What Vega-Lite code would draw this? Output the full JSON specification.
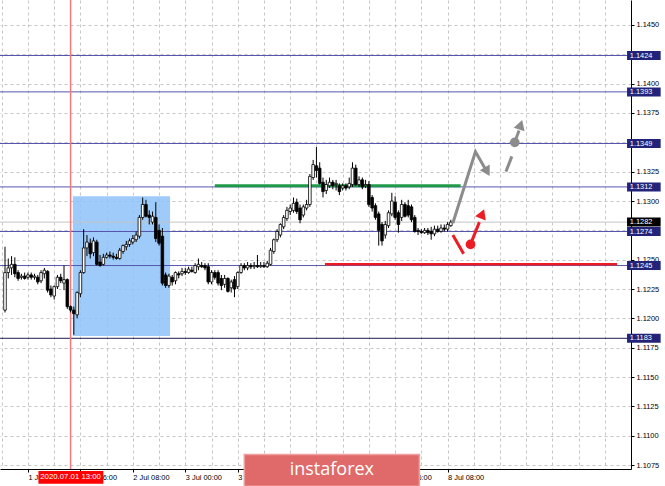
{
"$schema":"https://vega.github.io/schema/vega-lite/v6.json",
"width":631,"height":469,
"autosize":{"type":"none"},
"padding":{"left":0,"top":0,"right":34,"bottom":17},
"background":"white",
"config":{"view":{"stroke":null},"font":"Liberation Sans"},
"resolve":{"scale":{"x":"shared","y":"shared"},"axis":{"x":"independent","y":"independent"}},
"datasets":{
"candles":[
{"t":-7,"o":1.1207,"h":1.1261,"l":1.1205,"c":1.1239},{"t":-6,"o":1.1239,"h":1.1251,"l":1.1234,"c":1.1243},{"t":-5,"o":1.1243,"h":1.1253,"l":1.1237,"c":1.1246},{"t":-4,"o":1.1246,"h":1.1252,"l":1.1235,"c":1.1238},{"t":-3,"o":1.1239,"h":1.1241,"l":1.1232,"c":1.1234},{"t":-2,"o":1.1235,"h":1.1238,"l":1.1233,"c":1.1236},{"t":-1,"o":1.1236,"h":1.1239,"l":1.1233,"c":1.1234},
{"t":0,"o":1.1235,"h":1.1239,"l":1.1233,"c":1.1237},{"t":1,"o":1.1237,"h":1.1239,"l":1.1233,"c":1.1235},{"t":2,"o":1.1235,"h":1.1238,"l":1.1233,"c":1.1236},{"t":3,"o":1.1235,"h":1.1237,"l":1.1229,"c":1.1231},{"t":4,"o":1.1232,"h":1.1241,"l":1.1230,"c":1.1239},{"t":5,"o":1.1238,"h":1.1243,"l":1.1234,"c":1.1241},{"t":6,"o":1.1240,"h":1.1241,"l":1.1222,"c":1.1224},{"t":7,"o":1.1225,"h":1.1228,"l":1.1218,"c":1.1220},{"t":8,"o":1.1219,"h":1.1228,"l":1.1216,"c":1.1227},{"t":9,"o":1.1227,"h":1.1237,"l":1.1225,"c":1.1235},
{"t":10,"o":1.1235,"h":1.1238,"l":1.1230,"c":1.1232},{"t":11,"o":1.1230,"h":1.1245,"l":1.1224,"c":1.1233},{"t":12,"o":1.1233,"h":1.1234,"l":1.1208,"c":1.1210},{"t":13,"o":1.1210,"h":1.1211,"l":1.1205,"c":1.1207},{"t":14,"o":1.1207,"h":1.1210,"l":1.1186,"c":1.1204},{"t":15,"o":1.1203,"h":1.1223,"l":1.1200,"c":1.1222},{"t":16,"o":1.1221,"h":1.1241,"l":1.1218,"c":1.1239},{"t":17,"o":1.1239,"h":1.1276,"l":1.1238,"c":1.1260},{"t":18,"o":1.1260,"h":1.1271,"l":1.1253,"c":1.1265},{"t":19,"o":1.1264,"h":1.1268,"l":1.1251,"c":1.1255},
{"t":20,"o":1.1256,"h":1.1269,"l":1.1253,"c":1.1266},{"t":21,"o":1.1265,"h":1.1267,"l":1.1245,"c":1.1246},{"t":22,"o":1.1248,"h":1.1254,"l":1.1244,"c":1.1245},{"t":23,"o":1.1246,"h":1.1255,"l":1.1245,"c":1.1252},{"t":24,"o":1.1252,"h":1.1256,"l":1.1251,"c":1.1254},{"t":25,"o":1.1254,"h":1.1257,"l":1.1251,"c":1.1253},{"t":26,"o":1.1253,"h":1.1256,"l":1.1250,"c":1.1252},{"t":27,"o":1.1252,"h":1.1255,"l":1.1250,"c":1.1251},{"t":28,"o":1.1251,"h":1.1260,"l":1.1250,"c":1.1258},{"t":29,"o":1.1257,"h":1.1263,"l":1.1255,"c":1.1262},
{"t":30,"o":1.1261,"h":1.1266,"l":1.1258,"c":1.1263},{"t":31,"o":1.1263,"h":1.1268,"l":1.1261,"c":1.1266},{"t":32,"o":1.1265,"h":1.1271,"l":1.1263,"c":1.1268},{"t":33,"o":1.1267,"h":1.1274,"l":1.1265,"c":1.1271},{"t":34,"o":1.1270,"h":1.1288,"l":1.1268,"c":1.1286},{"t":35,"o":1.1286,"h":1.1303,"l":1.1284,"c":1.1297},{"t":36,"o":1.1297,"h":1.1301,"l":1.1286,"c":1.1287},{"t":37,"o":1.1288,"h":1.1292,"l":1.1280,"c":1.1286},{"t":38,"o":1.1282,"h":1.1291,"l":1.1280,"c":1.1287},{"t":39,"o":1.1286,"h":1.1299,"l":1.1265,"c":1.1268},
{"t":40,"o":1.1275,"h":1.1280,"l":1.1262,"c":1.1264},{"t":41,"o":1.1270,"h":1.1277,"l":1.1228,"c":1.1230},{"t":42,"o":1.1237,"h":1.1239,"l":1.1226,"c":1.1228},{"t":43,"o":1.1228,"h":1.1238,"l":1.1226,"c":1.1236},{"t":44,"o":1.1235,"h":1.1237,"l":1.1228,"c":1.1231},{"t":45,"o":1.1232,"h":1.1240,"l":1.1229,"c":1.1239},{"t":46,"o":1.1238,"h":1.1240,"l":1.1234,"c":1.1237},{"t":47,"o":1.1238,"h":1.1243,"l":1.1236,"c":1.1240},{"t":48,"o":1.1240,"h":1.1243,"l":1.1237,"c":1.1239},{"t":49,"o":1.1239,"h":1.1244,"l":1.1238,"c":1.1242},
{"t":50,"o":1.1241,"h":1.1244,"l":1.1239,"c":1.1240},{"t":51,"o":1.1239,"h":1.1247,"l":1.1238,"c":1.1245},{"t":52,"o":1.1244,"h":1.1251,"l":1.1241,"c":1.1246},{"t":53,"o":1.1245,"h":1.1248,"l":1.1243,"c":1.1244},{"t":54,"o":1.1245,"h":1.1247,"l":1.1241,"c":1.1243},{"t":55,"o":1.1244,"h":1.1247,"l":1.1229,"c":1.1231},{"t":56,"o":1.1231,"h":1.1241,"l":1.1229,"c":1.1239},{"t":57,"o":1.1239,"h":1.1241,"l":1.1233,"c":1.1235},{"t":58,"o":1.1239,"h":1.1241,"l":1.1228,"c":1.1230},{"t":59,"o":1.1234,"h":1.1237,"l":1.1224,"c":1.1228},
{"t":60,"o":1.1229,"h":1.1237,"l":1.1226,"c":1.1234},{"t":61,"o":1.1234,"h":1.1235,"l":1.1222,"c":1.1223},{"t":62,"o":1.1226,"h":1.1233,"l":1.1222,"c":1.1231},{"t":63,"o":1.1233,"h":1.1236,"l":1.1218,"c":1.1225},{"t":64,"o":1.1227,"h":1.1240,"l":1.1225,"c":1.1239},{"t":65,"o":1.1239,"h":1.1247,"l":1.1238,"c":1.1245},{"t":66,"o":1.1245,"h":1.1247,"l":1.1241,"c":1.1243},{"t":67,"o":1.1243,"h":1.1248,"l":1.1241,"c":1.1245},{"t":68,"o":1.1245,"h":1.1247,"l":1.1242,"c":1.1244},{"t":69,"o":1.1244,"h":1.1248,"l":1.1242,"c":1.1245},
{"t":70,"o":1.1245,"h":1.1254,"l":1.1243,"c":1.1244},{"t":71,"o":1.1244,"h":1.1248,"l":1.1243,"c":1.1245},{"t":72,"o":1.1245,"h":1.1248,"l":1.1243,"c":1.1244},{"t":73,"o":1.1244,"h":1.1249,"l":1.1243,"c":1.1247},{"t":74,"o":1.1246,"h":1.1260,"l":1.1245,"c":1.1258},{"t":75,"o":1.1257,"h":1.1268,"l":1.1255,"c":1.1267},{"t":76,"o":1.1267,"h":1.1276,"l":1.1265,"c":1.1274},{"t":77,"o":1.1271,"h":1.1281,"l":1.1269,"c":1.1280},{"t":78,"o":1.1278,"h":1.1288,"l":1.1276,"c":1.1286},{"t":79,"o":1.1285,"h":1.1295,"l":1.1283,"c":1.1292},
{"t":80,"o":1.1291,"h":1.1297,"l":1.1288,"c":1.1294},{"t":81,"o":1.1292,"h":1.1303,"l":1.1290,"c":1.1298},{"t":82,"o":1.1299,"h":1.1302,"l":1.1289,"c":1.1291},{"t":83,"o":1.1294,"h":1.1297,"l":1.1281,"c":1.1284},{"t":84,"o":1.1288,"h":1.1297,"l":1.1286,"c":1.1295},{"t":85,"o":1.1294,"h":1.1301,"l":1.1292,"c":1.1297},{"t":86,"o":1.1297,"h":1.1323,"l":1.1295,"c":1.1321},{"t":87,"o":1.1320,"h":1.1335,"l":1.1318,"c":1.1331},{"t":88,"o":1.1330,"h":1.1346,"l":1.1320,"c":1.1326},{"t":89,"o":1.1328,"h":1.1333,"l":1.1314,"c":1.1315},
{"t":90,"o":1.1316,"h":1.1320,"l":1.1303,"c":1.1308},{"t":91,"o":1.1309,"h":1.1318,"l":1.1306,"c":1.1314},{"t":92,"o":1.1313,"h":1.1320,"l":1.1311,"c":1.1316},{"t":93,"o":1.1316,"h":1.1318,"l":1.1310,"c":1.1313},{"t":94,"o":1.1314,"h":1.1318,"l":1.1309,"c":1.1315},{"t":95,"o":1.1313,"h":1.1315,"l":1.1305,"c":1.1308},{"t":96,"o":1.1311,"h":1.1315,"l":1.1309,"c":1.1313},{"t":97,"o":1.1313,"h":1.1315,"l":1.1309,"c":1.1311},{"t":98,"o":1.1312,"h":1.1320,"l":1.1310,"c":1.1315},{"t":99,"o":1.1314,"h":1.1333,"l":1.1312,"c":1.1328},
{"t":100,"o":1.1328,"h":1.1331,"l":1.1313,"c":1.1314},{"t":101,"o":1.1314,"h":1.1321,"l":1.1312,"c":1.1318},{"t":102,"o":1.1318,"h":1.1320,"l":1.1310,"c":1.1312},{"t":103,"o":1.1313,"h":1.1318,"l":1.1311,"c":1.1314},{"t":104,"o":1.1314,"h":1.1317,"l":1.1295,"c":1.1297},{"t":105,"o":1.1303,"h":1.1305,"l":1.1291,"c":1.1294},{"t":106,"o":1.1296,"h":1.1298,"l":1.1284,"c":1.1286},{"t":107,"o":1.1289,"h":1.1291,"l":1.1262,"c":1.1275},{"t":108,"o":1.1280,"h":1.1282,"l":1.1262,"c":1.1266},{"t":109,"o":1.1271,"h":1.1283,"l":1.1268,"c":1.1280},
{"t":110,"o":1.1279,"h":1.1292,"l":1.1277,"c":1.1290},{"t":111,"o":1.1289,"h":1.1307,"l":1.1287,"c":1.1300},{"t":112,"o":1.1299,"h":1.1304,"l":1.1284,"c":1.1286},{"t":113,"o":1.1290,"h":1.1292,"l":1.1273,"c":1.1280},{"t":114,"o":1.1286,"h":1.1301,"l":1.1283,"c":1.1297},{"t":115,"o":1.1297,"h":1.1299,"l":1.1286,"c":1.1287},{"t":116,"o":1.1296,"h":1.1301,"l":1.1286,"c":1.1288},{"t":117,"o":1.1295,"h":1.1297,"l":1.1282,"c":1.1284},{"t":118,"o":1.1286,"h":1.1288,"l":1.1273,"c":1.1274},{"t":119,"o":1.1275,"h":1.1277,"l":1.1271,"c":1.1274},
{"t":120,"o":1.1274,"h":1.1276,"l":1.1272,"c":1.1273},{"t":121,"o":1.1273,"h":1.1277,"l":1.1272,"c":1.1275},{"t":122,"o":1.1275,"h":1.1277,"l":1.1271,"c":1.1273},{"t":123,"o":1.1274,"h":1.1278,"l":1.1267,"c":1.1272},{"t":124,"o":1.1272,"h":1.1279,"l":1.1270,"c":1.1276},{"t":125,"o":1.1276,"h":1.1279,"l":1.1273,"c":1.1274},{"t":126,"o":1.1274,"h":1.1280,"l":1.1273,"c":1.1277},{"t":127,"o":1.1277,"h":1.1280,"l":1.1274,"c":1.1276},{"t":128,"o":1.1276,"h":1.1282,"l":1.1274,"c":1.1280},{"t":129,"o":1.1279,"h":1.1284,"l":1.1278,"c":1.1282}
],
"levels":[{"p":1.1424,"k":"lvl"},{"p":1.1393,"k":"lvl"},{"p":1.1349,"k":"lvl"},{"p":1.1312,"k":"lvl"},{"p":1.1274,"k":"lvl"},{"p":1.1245,"k":"lvl"},{"p":1.1183,"k":"low"},{"p":1.1282,"k":"bid"}],
"zone":[{"t0":13.7,"t1":43.35,"p0":1.1185,"p1":1.1304}],
"segs":[{"name":"support","t0":57,"t1":132,"p":1.1313},{"name":"resistance","t0":90.6,"t1":179.7,"p":1.1246}],
"marker":[{"t":13,"lab":"2020.07.01 13:00"}],
"grayPath":[{"g":"a","s":0,"t":129.6,"p":1.1281},{"g":"a","s":1,"t":136.5,"p":1.1342},{"g":"a","s":2,"t":139.8,"p":1.1326},{"g":"b","s":0,"t":145.8,"p":1.1325},{"g":"b","s":1,"t":147.6,"p":1.1338},{"g":"c","s":0,"t":148.5,"p":1.1350},{"g":"c","s":1,"t":149.8,"p":1.1360}],
"redPath":[{"g":"a","s":0,"t":129.6,"p":1.1271},{"g":"a","s":1,"t":132.9,"p":1.1255},{"g":"b","s":0,"t":135.0,"p":1.1263},{"g":"b","s":1,"t":137.7,"p":1.1282}],
"dots":[{"k":"gray","t":148.5,"p":1.1350},{"k":"red","t":135.0,"p":1.1263}],
"heads":[{"id":"grayDown","t":140.1,"p":1.1325},{"id":"grayUp","t":150.3,"p":1.1365},{"id":"redUp","t":138.6,"p":1.1289}],
"logo":[{"t0":66,"t1":119.4,"p0":1.1057,"p1":1.1084,"tm":92.7,"pm":1.10705,"lab":"instaforex"}]
},
"layer":[
{"data":{"name":"zone"},"mark":{"type":"rect","fill":"#8ec2f9","opacity":0.85},
 "encoding":{
  "x":{"field":"t0","type":"quantitative","scale":{"domain":[-7,182.43],"nice":false,"zero":false},
   "axis":{"orient":"bottom","title":null,"values":[-16,-8,0,8,16,24,32,40,48,56,64,72,80,88,96,104,112,120,128,136,144,152,160,168,176],
    "labelExpr":"({'-16':'30 Jun 08:00','0':'1 Jul 00:00','16':'1 Jul 16:00','32':'2 Jul 08:00','48':'3 Jul 00:00','64':'3 Jul 16:00','80':'6 Jul 08:00','96':'7 Jul 00:00','112':'7 Jul 16:00','128':'8 Jul 08:00'})[datum.value] || ''",
    "grid":true,"gridColor":"#c6c6c6","gridDash":[3,3],"gridWidth":1,"tickSize":3,"tickColor":"#000","tickOpacity":{"condition":{"test":"datum.value % 16 === 0 && datum.value <= 128","value":1},"value":0},
    "domainColor":"#000","domainWidth":1,"labelAlign":"left","labelFont":"Liberation Sans","labelFontSize":7.4,"labelColor":"#000","labelPadding":1,"labelOverlap":false,"labelFlush":false,"labelBound":false}},
  "x2":{"field":"t1"},
  "y":{"field":"p0","type":"quantitative","scale":{"domain":[1.10716,1.14713],"nice":false,"zero":false},
   "axis":{"orient":"right","title":null,"values":[1.1075,1.11,1.1125,1.115,1.1175,1.12,1.1225,1.125,1.1275,1.13,1.1325,1.135,1.1375,1.14,1.1425,1.145],"format":".4f",
    "grid":true,"gridColor":"#c6c6c6","gridDash":[3,3],"gridWidth":1,"tickSize":3,"tickColor":"#000","domainColor":"#000","domainWidth":1,
    "labelFont":"Liberation Sans","labelFontSize":7.4,"labelColor":"#000","labelPadding":2,"labelOverlap":false,"labelFlush":false,"labelBaseline":"middle"}},
  "y2":{"field":"p1"}}},
{"data":{"name":"levels"},"transform":[{"filter":"datum.k === 'lvl'"}],"mark":{"type":"rule","strokeWidth":1,"stroke":"#5656b0"},
 "encoding":{"y":{"field":"p","type":"quantitative","axis":null}}},
{"data":{"name":"levels"},"transform":[{"filter":"datum.k === 'low'"}],"mark":{"type":"rule","strokeWidth":1,"stroke":"#1c1c4e"},
 "encoding":{"y":{"field":"p","type":"quantitative","axis":null}}},
{"data":{"name":"levels"},"transform":[{"filter":"datum.k === 'bid'"}],"mark":{"type":"rule","strokeWidth":1,"stroke":"#c4c4c4"},
 "encoding":{"y":{"field":"p","type":"quantitative","axis":null}}},
{"data":{"name":"marker"},"mark":{"type":"rule","stroke":"#f27a7a","strokeWidth":1.5},
 "encoding":{"x":{"field":"t","type":"quantitative","axis":null}}},
{"data":{"name":"segs"},"transform":[{"filter":"datum.name === 'support'"}],"mark":{"type":"rule","stroke":"#1f9a48","strokeWidth":3},
 "encoding":{"x":{"field":"t0","type":"quantitative","axis":null},"x2":{"field":"t1"},"y":{"field":"p","type":"quantitative","axis":null}}},
{"data":{"name":"segs"},"transform":[{"filter":"datum.name === 'resistance'"}],"mark":{"type":"rule","stroke":"#ec1c24","strokeWidth":2.5},
 "encoding":{"x":{"field":"t0","type":"quantitative","axis":null},"x2":{"field":"t1"},"y":{"field":"p","type":"quantitative","axis":null}}},
{"data":{"name":"candles"},"mark":{"type":"rule","stroke":"#000","strokeWidth":1},
 "encoding":{"x":{"field":"t","type":"quantitative","axis":null},"y":{"field":"l","type":"quantitative","axis":null},"y2":{"field":"h"}}},
{"data":{"name":"candles"},"mark":{"type":"bar","width":2.6,"stroke":"#000","strokeWidth":0.8},
 "encoding":{"x":{"field":"t","type":"quantitative","axis":null},"y":{"field":"o","type":"quantitative","axis":null},"y2":{"field":"c"},
  "fill":{"condition":{"test":"datum.c > datum.o","value":"#ffffff"},"value":"#000000"}}},
{"data":{"name":"grayPath"},"mark":{"type":"line","stroke":"#8c8c8c","strokeWidth":3},
 "encoding":{"x":{"field":"t","type":"quantitative","axis":null},"y":{"field":"p","type":"quantitative","axis":null},"detail":{"field":"g"},"order":{"field":"s"}}},
{"data":{"name":"redPath"},"mark":{"type":"line","stroke":"#ec1c24","strokeWidth":3},
 "encoding":{"x":{"field":"t","type":"quantitative","axis":null},"y":{"field":"p","type":"quantitative","axis":null},"detail":{"field":"g"},"order":{"field":"s"}}},
{"data":{"name":"dots"},"mark":{"type":"point","filled":true,"opacity":1,"size":95},
 "encoding":{"x":{"field":"t","type":"quantitative","axis":null},"y":{"field":"p","type":"quantitative","axis":null},
  "fill":{"condition":{"test":"datum.k === 'red'","value":"#ec1c24"},"value":"#8c8c8c"}}},
{"data":{"name":"heads"},"transform":[{"filter":"datum.id === 'grayDown'"}],"mark":{"type":"point","shape":"triangle-up","filled":true,"opacity":1,"fill":"#8c8c8c","size":130,"angle":150},
 "encoding":{"x":{"field":"t","type":"quantitative","axis":null},"y":{"field":"p","type":"quantitative","axis":null}}},
{"data":{"name":"heads"},"transform":[{"filter":"datum.id === 'grayUp'"}],"mark":{"type":"point","shape":"triangle-up","filled":true,"opacity":1,"fill":"#8c8c8c","size":130,"angle":18},
 "encoding":{"x":{"field":"t","type":"quantitative","axis":null},"y":{"field":"p","type":"quantitative","axis":null}}},
{"data":{"name":"heads"},"transform":[{"filter":"datum.id === 'redUp'"}],"mark":{"type":"point","shape":"triangle-up","filled":true,"opacity":1,"fill":"#ec1c24","size":130,"angle":22},
 "encoding":{"x":{"field":"t","type":"quantitative","axis":null},"y":{"field":"p","type":"quantitative","axis":null}}},
{"data":{"name":"levels"},"mark":{"type":"rect","yOffset":-4.5,"y2Offset":4.5},
 "encoding":{"x":{"datum":182.75,"type":"quantitative","axis":null},"x2":{"datum":193},"y":{"field":"p","type":"quantitative","axis":null},"y2":{"field":"p"},
  "fill":{"condition":{"test":"datum.k === 'bid'","value":"#000000"},"value":"#23237a"}}},
{"data":{"name":"levels"},"mark":{"type":"text","align":"left","baseline":"middle","color":"#ffffff","font":"Liberation Sans","fontSize":7.4},
 "encoding":{"x":{"datum":183.6,"type":"quantitative","axis":null},"y":{"field":"p","type":"quantitative","axis":null},"text":{"field":"p","type":"quantitative","format":".4f"}}},
{"data":{"name":"marker"},"mark":{"type":"rect","fill":"#ff0000"},
 "encoding":{"x":{"datum":3.2,"type":"quantitative","axis":null},"x2":{"datum":23.0},"y":{"datum":1.1070,"type":"quantitative","axis":null},"y2":{"datum":1.1059}}},
{"data":{"name":"marker"},"mark":{"type":"text","align":"center","baseline":"middle","color":"#ffffff","font":"Liberation Sans","fontSize":7.8},
 "encoding":{"x":{"field":"t","type":"quantitative","axis":null},"y":{"datum":1.10645,"type":"quantitative","axis":null},"text":{"field":"lab"}}},
{"data":{"name":"logo"},"mark":{"type":"rect","fill":"#e06a6a","stroke":"#eea0a0","strokeWidth":1.5},
 "encoding":{"x":{"field":"t0","type":"quantitative","axis":null},"x2":{"field":"t1"},"y":{"field":"p0","type":"quantitative","axis":null},"y2":{"field":"p1"}}},
{"data":{"name":"logo"},"mark":{"type":"text","align":"center","baseline":"middle","color":"#ffffff","font":"Open Sans","fontSize":18},
 "encoding":{"x":{"field":"tm","type":"quantitative","axis":null},"y":{"field":"pm","type":"quantitative","axis":null},"text":{"field":"lab"}}}
]
}
